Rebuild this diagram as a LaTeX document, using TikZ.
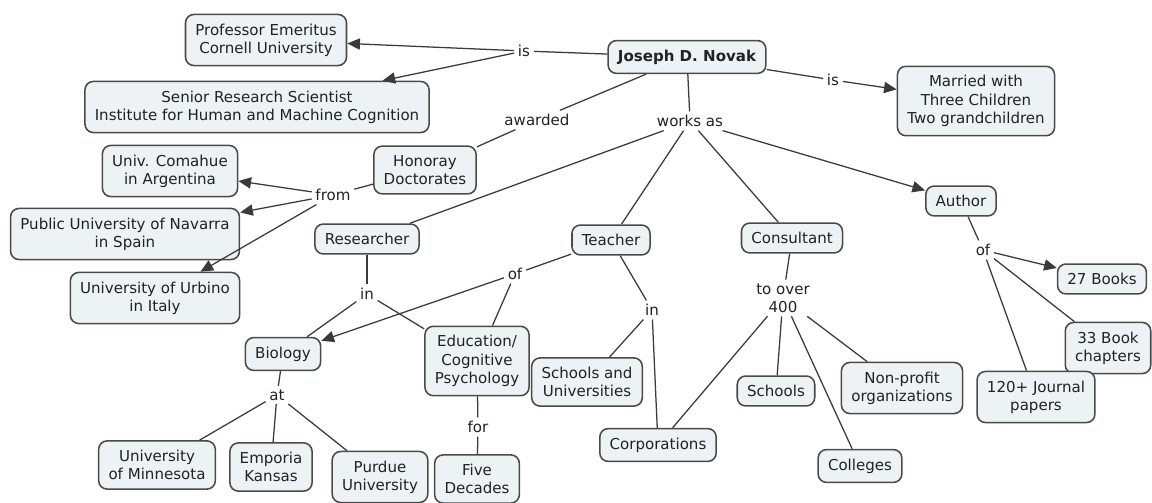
\documentclass[tikz,border=0pt]{standalone}
\usepackage{fontspec}
\setmainfont{DejaVu Sans}
\usetikzlibrary{arrows.meta}
\definecolor{boxfill}{HTML}{EDF2F5}
\definecolor{boxline}{HTML}{4A4A4A}
\definecolor{linkclr}{HTML}{3A3A3A}
\definecolor{txt}{HTML}{222222}

\begin{document}
\begin{tikzpicture}[
  x=0.025cm, y=-0.025cm,
  >={Triangle[length=9pt, width=8pt]},
  % concepts: rounded boxes, all the same look
  concept/.style={rectangle, rounded corners=6pt, draw=boxline, line width=1.1pt, fill=boxfill,
    align=center, inner xsep=7pt, inner ysep=6.5pt, text=txt, font=\fontsize{10.7}{13}\selectfont},
  % linking phrases sit on the lines, no frame
  phrase/.style={align=center, inner sep=2.5pt, text=txt, font=\fontsize{10.7}{13}\selectfont},
  conn/.style={draw=linkclr, line width=0.9pt}
]
\useasboundingbox (0,0) rectangle (1152,503);

% Top: the person
\node[concept, font=\fontsize{10.7}{13}\selectfont\bfseries] (novak) at (687,57) {Joseph D. Novak};
\node[concept] (prof) at (266,40) {Professor Emeritus\\Cornell University};
\node[concept] (senior) at (257,107) {Senior Research Scientist\\Institute for Human and Machine Cognition};
\node[concept] (married) at (976,101) {Married with\\Three Children\\Two grandchildren};

\node[phrase] (isL) at (524,51) {is};
\node[phrase] (isR) at (833,80) {is};
\draw[conn] (novak) -- (isL);
\draw[conn, ->] (isL) -- (prof);
\draw[conn, ->] (isL) -- (senior);
\draw[conn] (novak) -- (isR);
\draw[conn, ->] (isR) -- (married);

% Honorary doctorates
\node[phrase] (awarded) at (537,120) {awarded};
\node[concept] (honor) at (425,170) {Honoray\\Doctorates};
\draw[conn] (novak) -- (awarded);
\draw[conn] (awarded) -- (honor);

\node[phrase] (from) at (333,195) {from};
\node[concept] (comahue) at (170,171) {Univ. Comahue\\in Argentina};
\node[concept] (navarra) at (125,234) {Public University of Navarra\\in Spain};
\node[concept] (urbino) at (155,298) {University of Urbino\\in Italy};
\draw[conn] (honor) -- (from);
\draw[conn, ->] (from) -- (comahue);
\draw[conn, ->] (from) -- (navarra);
\draw[conn, ->] (from) -- (urbino);

% Works as ...
\node[phrase] (works) at (690,121) {works as};
\node[concept] (research) at (367,239) {Researcher};
\node[concept] (teach) at (611,240) {Teacher};
\node[concept] (consult) at (792,238) {Consultant};
\node[concept] (author) at (961,201) {Author};
\draw[conn] (novak) -- (works);
\draw[conn] (works) -- (research);
\draw[conn] (works) -- (teach);
\draw[conn] (works) -- (consult);
\draw[conn, ->] (works) -- (author);

% Researcher / Teacher branches
\node[phrase] (inR) at (367,294) {in};
\node[concept] (bio) at (283,354) {Biology};
\node[concept] (edu) at (477,361) {Education/\\Cognitive\\Psychology};
\draw[conn] (research) -- (inR);
\draw[conn] (inR) -- (bio);
\draw[conn] (inR) -- (edu);

\node[phrase] (ofT) at (515,274) {of};
\draw[conn] (teach) -- (ofT);
\draw[conn, ->] (ofT) -- (bio);
\draw[conn] (ofT) -- (edu);

\node[phrase] (inT) at (652,310) {in};
\node[concept] (schuni) at (587,382) {Schools and\\Universities};
\node[concept] (corp) at (658,445) {Corporations};
\draw[conn] (teach) -- (inT);
\draw[conn] (inT) -- (schuni);
\draw[conn] (inT) -- (corp);

% Biology at ...
\node[phrase] (lblAt) at (277,395) {at};
\node[concept] (minn) at (157,465) {University\\of Minnesota};
\node[concept] (emporia) at (271,467) {Emporia\\Kansas};
\node[concept] (purdue) at (380,477) {Purdue\\University};
\draw[conn] (bio) -- (lblAt);
\draw[conn] (lblAt) -- (minn);
\draw[conn] (lblAt) -- (emporia);
\draw[conn] (lblAt) -- (purdue);

\node[phrase] (lblFor) at (478,427) {for};
\node[concept] (decades) at (477,479) {Five\\Decades};
\draw[conn] (edu) -- (lblFor);
\draw[conn] (lblFor) -- (decades);

% Consultant to over 400
\node[phrase] (toover) at (783,298) {to over\\400};
\node[concept] (schools) at (776,391) {Schools};
\node[concept] (nonprofit) at (902,388) {Non-profit\\organizations};
\node[concept] (colleges) at (860,466) {Colleges};
\draw[conn] (consult) -- (toover);
\draw[conn] (toover) -- (corp);
\draw[conn] (toover) -- (schools);
\draw[conn] (toover) -- (colleges);
\draw[conn] (toover) -- (nonprofit);

% Author of
\node[phrase] (ofA) at (983,250) {of};
\node[concept] (books) at (1102,279) {27 Books};
\node[concept] (chapters) at (1108,348) {33 Book\\chapters};
\node[concept] (papers) at (1036,397) {120+ Journal\\papers};
\draw[conn] (author) -- (ofA);
\draw[conn, ->] (ofA) -- (books);
\draw[conn] (ofA) -- (chapters);
\draw[conn] (ofA) -- (papers);

\end{tikzpicture}
\end{document}
